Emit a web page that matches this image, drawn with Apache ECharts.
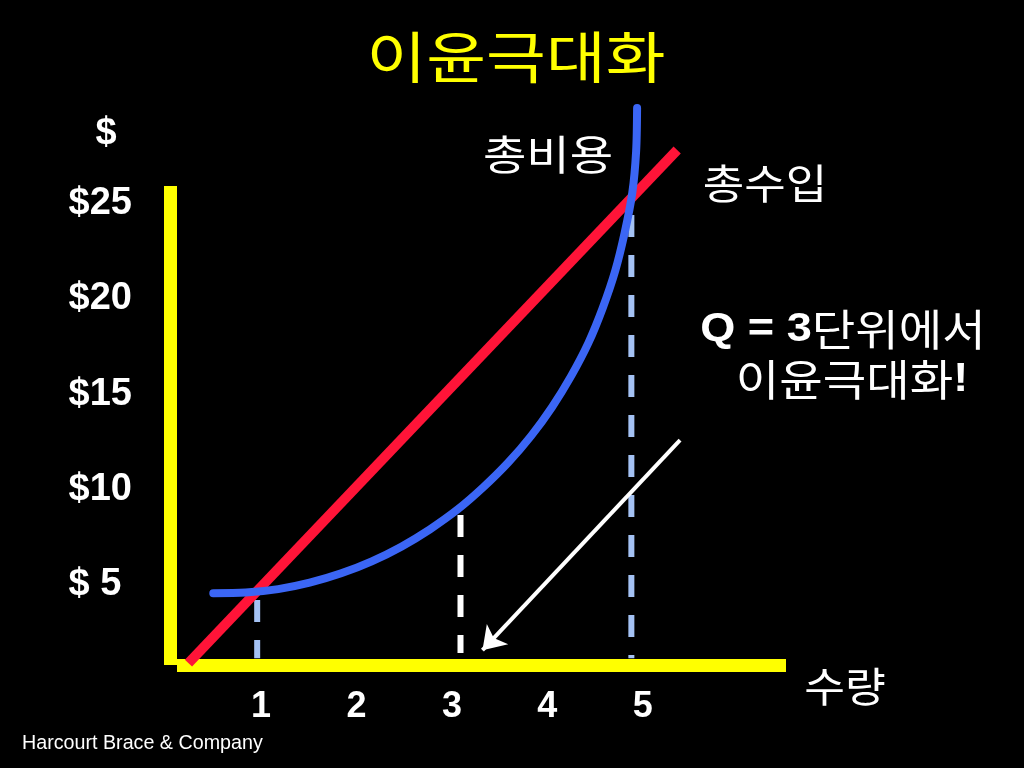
<!DOCTYPE html>
<html>
<head>
<meta charset="utf-8">
<style>
html,body{margin:0;padding:0;background:#000;}
#chart{width:1024px;height:768px;}
</style>
<script src="https://cdn.jsdelivr.net/npm/echarts@6/dist/echarts.min.js"></script>
</head>
<body>
<div id="chart"></div>
<script>
// ---- data ----
const titleText = '이윤극대화';
const quantityTicks = [1, 2, 3, 4, 5];
const quantityTickLabels = ['1', '2', '3', '4', '5'];
const dollarTicks = [5, 10, 15, 20, 25];
const dollarTickLabels = ['$ 5', '$10', '$15', '$20', '$25'];
const totalRevenue = [[0.24, 0.89], [5.36, 27.81]];
const totalCost = [
  [0.50, 4.56], [0.84, 4.59], [1.18, 4.77], [1.51, 5.11], [1.84, 5.60],
  [2.16, 6.23], [2.47, 7.00], [2.77, 7.91], [3.06, 8.95], [3.33, 10.12],
  [3.59, 11.41], [3.83, 12.81], [4.05, 14.33], [4.25, 15.96], [4.43, 17.69],
  [4.58, 19.52], [4.71, 21.45], [4.81, 23.47], [4.89, 25.57], [4.93, 27.75],
  [4.94, 30.01]
];
const dropQ1 = [[0.96, 4.20], [0.96, 1.15]];
const dropQ3 = [[3.09, 8.66], [3.09, 1.42]];
const dropQ5 = [[4.88, 24.40], [4.88, 1.15]];
const arrowFrom = [5.39, 12.59];
const arrowTo = [3.32, 1.57];
const costLabel = '총비용';
const revenueLabel = '총수입';
const yAxisName = '$';
const xAxisName = '수량';
const noteLine1 = ['Q = 3', '단위에서'];
const noteLine2 = ['이윤극대화', '!'];
const sourceText = 'Harcourt Brace & Company';

const KR = '"Noto Sans CJK KR", sans-serif';
const LAT = '"Liberation Sans", Arial, sans-serif';

const chart = echarts.init(document.getElementById('chart'));
chart.setOption({
  backgroundColor: '#000000',
  animation: false,
  grid: { left: 177, right: 238, top: 186, bottom: 103 },
  xAxis: {
    type: 'value', min: 0.12, max: 6.5,
    axisLine: { show: true, onZero: false, lineStyle: { color: '#ffff00', width: 13, cap: 'butt' } },
    axisTick: { show: false },
    splitLine: { show: false },
    axisLabel: {
      customValues: quantityTicks,
      formatter: v => quantityTickLabels[quantityTicks.indexOf(v)] || '',
      color: '#ffffff', fontFamily: LAT, fontWeight: 'bold', fontSize: 36, margin: 24
    }
  },
  yAxis: {
    type: 'value', min: 0.79, max: 25.92, offset: 6.5,
    axisLine: { show: true, onZero: false, lineStyle: { color: '#ffff00', width: 13, cap: 'butt' } },
    axisTick: { show: false },
    splitLine: { show: false },
    axisLabel: {
      customValues: dollarTicks,
      formatter: v => dollarTickLabels[dollarTicks.indexOf(v)] || '',
      color: '#ffffff', fontFamily: LAT, fontWeight: 'bold', fontSize: 38,
      align: 'left', margin: 102
    }
  },
  series: [
    {
      type: 'line', data: dropQ1, showSymbol: false, clip: false, silent: true,
      lineStyle: { color: '#a4c2f4', width: 6, type: [22, 18] }
    },
    {
      type: 'line', data: dropQ3, showSymbol: false, clip: false, silent: true,
      lineStyle: { color: '#ffffff', width: 6, type: [22, 18] }
    },
    {
      type: 'line', data: dropQ5, showSymbol: false, clip: false, silent: true,
      lineStyle: { color: '#a4c2f4', width: 6, type: [22, 18] }
    },
    {
      name: revenueLabel, type: 'line', data: totalRevenue, showSymbol: false, clip: false, silent: true,
      lineStyle: { color: '#ff1438', width: 10 }
    },
    {
      name: costLabel, type: 'line', data: totalCost, showSymbol: false, clip: false, silent: true,
      smooth: 0.3,
      lineStyle: { color: '#3b66f5', width: 8, cap: 'round', join: 'round' }
    },
    {
      type: 'line', data: [arrowFrom, arrowTo], showSymbol: false, clip: false, silent: true,
      lineStyle: { color: '#ffffff', width: 4, opacity: 0 },
      itemStyle: { color: '#ffffff' },
      markLine: {
        silent: true, animation: false,
        symbol: ['none', 'arrow'], symbolSize: 22,
        label: { show: false },
        itemStyle: { color: '#ffffff' },
        lineStyle: { color: '#ffffff', width: 4, type: 'solid' },
        emphasis: { disabled: true },
        data: [[{ coord: arrowFrom }, { coord: arrowTo }]]
      }
    }
  ],
  graphic: [
    { type: 'text', x: 516, y: 57, scaleX: 1.16, style: { text: titleText, fill: '#ffff00', font: '56px ' + KR, textAlign: 'center', textVerticalAlign: 'middle' } },
    { type: 'text', x: 106, y: 134, style: { text: yAxisName, fill: '#ffffff', font: 'bold 38px ' + LAT, textAlign: 'center', textVerticalAlign: 'middle' } },
    { type: 'text', x: 548, y: 154, scaleX: 1.15, style: { text: costLabel, fill: '#ffffff', font: '41px ' + KR, textAlign: 'center', textVerticalAlign: 'middle' } },
    { type: 'text', x: 765, y: 183, scaleX: 1.1, style: { text: revenueLabel, fill: '#ffffff', font: '41px ' + KR, textAlign: 'center', textVerticalAlign: 'middle' } },
    { type: 'text', x: 845, y: 686, scaleX: 1.08, style: { text: xAxisName, fill: '#ffffff', font: '41px ' + KR, textAlign: 'center', textVerticalAlign: 'middle' } },
    { type: 'text', x: 843, y: 330, scaleX: 1.1, style: {
        text: '{b|' + noteLine1[0] + '}{n|' + noteLine1[1] + '}',
        textAlign: 'center', textVerticalAlign: 'middle',
        rich: {
          b: { fill: '#ffffff', fontFamily: LAT, fontWeight: 'bold', fontSize: 41 },
          n: { fill: '#ffffff', fontFamily: KR, fontSize: 43 }
        }
    } },
    { type: 'text', x: 852, y: 380, scaleX: 1.1, style: {
        text: '{n|' + noteLine2[0] + '}{b|' + noteLine2[1] + '}',
        textAlign: 'center', textVerticalAlign: 'middle',
        rich: {
          b: { fill: '#ffffff', fontFamily: LAT, fontWeight: 'bold', fontSize: 41 },
          n: { fill: '#ffffff', fontFamily: KR, fontSize: 43 }
        }
    } },
    { type: 'text', x: 22, y: 744, style: { text: sourceText, fill: '#ffffff', font: '19.7px ' + LAT, textAlign: 'left', textVerticalAlign: 'middle' } }
  ]
});
</script>
</body>
</html>
